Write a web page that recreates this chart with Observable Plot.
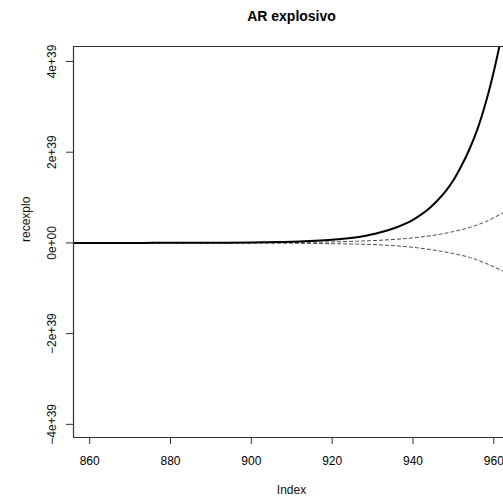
<!DOCTYPE html>
<html>
<head>
<meta charset="utf-8">
<script src="https://cdn.jsdelivr.net/npm/d3@7"></script>
<script src="https://cdn.jsdelivr.net/npm/@observablehq/plot@0.6"></script>
<style>
  html, body { margin: 0; padding: 0; background: #fff; }
  svg { display: block; }
</style>
</head>
<body>
<div id="chart"></div>
<script>
// Solid series (recexplo)
const index = [856, 866, 876, 886, 894, 900, 904, 908, 912, 916, 920, 924, 928, 930, 932, 934, 936, 938, 940, 942, 944, 946, 948, 950, 952, 954, 956, 958, 960, 962, 963];
const recexplo = [0.0001e39, 0.0003e39, 0.0008e39, 0.0023e39, 0.0051e39, 0.0093e39, 0.0139e39, 0.021e39, 0.031e39, 0.046e39, 0.069e39, 0.103e39, 0.153e39, 0.19e39, 0.235e39, 0.285e39, 0.345e39, 0.42e39, 0.51e39, 0.625e39, 0.76e39, 0.93e39, 1.13e39, 1.38e39, 1.70e39, 2.07e39, 2.52e39, 3.09e39, 3.78e39, 4.60e39, 5.08e39];

// Dashed bands
const bandIndex = [856, 880, 900, 910, 920, 926, 930, 934, 938, 942, 946, 950, 954, 958, 962, 963];
const upperBand = [0.0001e39, 0.0009e39, 0.0046e39, 0.010e39, 0.023e39, 0.037e39, 0.050e39, 0.069e39, 0.095e39, 0.131e39, 0.18e39, 0.25e39, 0.34e39, 0.47e39, 0.65e39, 0.70e39];
const lowerBand = [-0.0001e39, -0.0008e39, -0.004e39, -0.008e39, -0.017e39, -0.026e39, -0.035e39, -0.055e39, -0.08e39, -0.118e39, -0.17e39, -0.235e39, -0.32e39, -0.45e39, -0.61e39, -0.66e39];

// Axes
const xTicks = [860, 880, 900, 920, 940, 960];
const yTicks = [-4e39, -2e39, 0, 2e39, 4e39];
const yTickLabels = ["\u22124e+39", "\u22122e+39", "0e+00", "2e+39", "4e+39"];
const xDomain = [856, 962.4];
const yDomain = [-4.29e39, 4.33e39];

const title = "AR explosivo";
const xLabel = "Index";
const yLabel = "recexplo";

const solid = index.map((d, i) => ({x: d, y: recexplo[i]}));
const upper = bandIndex.map((d, i) => ({x: d, y: upperBand[i]}));
const lower = bandIndex.map((d, i) => ({x: d, y: lowerBand[i]}));

const font = "'Liberation Sans', Arial, Helvetica, sans-serif";

const chart = Plot.plot({
  width: 503,
  height: 499,
  marginLeft: 73,
  marginRight: 0,
  marginTop: 46,
  marginBottom: 62,
  style: {fontFamily: font, fontSize: "12px", color: "#000", background: "#fff"},
  x: {domain: xDomain},
  y: {domain: yDomain},
  marks: [
    Plot.line(upper, {x: "x", y: "y", stroke: "#444", strokeWidth: 1, strokeDasharray: "3,3", curve: "catmull-rom", clip: true}),
    Plot.line(lower, {x: "x", y: "y", stroke: "#444", strokeWidth: 1, strokeDasharray: "3,3", curve: "catmull-rom", clip: true}),
    Plot.line(solid, {x: "x", y: "y", stroke: "#000", strokeWidth: 2, curve: "catmull-rom", clip: true}),
    Plot.ruleY([yDomain[1]], {stroke: "#333", strokeWidth: 1.2}),
    Plot.ruleY([yDomain[0]], {stroke: "#333", strokeWidth: 1.2}),
    Plot.ruleX([xDomain[0]], {stroke: "#333", strokeWidth: 1.2}),
    Plot.axisX(xTicks, {anchor: "bottom", tickSize: 7, tickPadding: 12, fontSize: 12, label: null, stroke: "#333"}),
    Plot.axisY(yTicks, {anchor: "left", tickSize: 7, tickFormat: () => "", label: null, stroke: "#333"}),
    Plot.text(yTicks, {y: d => d, text: (d, i) => yTickLabels[i], frameAnchor: "left", dx: -18, rotate: -90, textAnchor: "middle", lineAnchor: "bottom", fontSize: 12, fill: "#111"}),
    Plot.text([title], {frameAnchor: "top", dx: 3, dy: -26, lineAnchor: "bottom", fontSize: 14, fontWeight: "bold", fill: "#000"}),
    Plot.text([xLabel], {frameAnchor: "bottom", dx: 3, dy: 53, lineAnchor: "middle", fontSize: 12, fill: "#111"}),
    Plot.text([yLabel], {frameAnchor: "left", dx: -47, rotate: -90, lineAnchor: "middle", fontSize: 12, fill: "#111"})
  ]
});
document.getElementById("chart").appendChild(chart);
</script>
</body>
</html>
